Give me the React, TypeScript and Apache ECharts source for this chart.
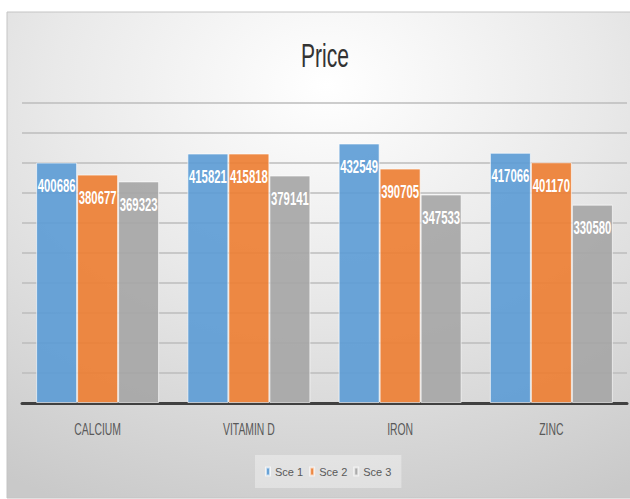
import React, { useEffect, useRef } from "react";
import * as echarts from "echarts";

const categories = ["CALCIUM", "VITAMIN D", "IRON", "ZINC"];
const seriesNames = ["Sce 1", "Sce 2", "Sce 3"];
const sce1 = [400686, 415821, 432549, 417066];
const sce2 = [380677, 415818, 390705, 401170];
const sce3 = [369323, 379141, 347533, 330580];
const colors = ["#5B9BD5", "#ED7D31", "#A5A5A5"];

const FONT = "'Liberation Sans', Arial, sans-serif";
const BAR_W = 41;

export default function App() {
  const ref = useRef<HTMLDivElement>(null);
  useEffect(() => {
    if (!ref.current) return;
    const chart = echarts.init(ref.current, null, { renderer: "svg" });
    const data = [sce1, sce2, sce3];
    const labelData: number[][] = [];
    data.forEach((arr, s) => arr.forEach((v, c) => labelData.push([c, v, s])));
    const catData = categories.map((_, i) => [i, 0]);

    chart.setOption({
      animation: false,
      backgroundColor: "#ffffff",
      graphic: [
        {
          type: "rect",
          z: -100,
          silent: true,
          shape: { x: 7, y: 12, width: 640, height: 486 },
          style: {
            fill: new echarts.graphic.RadialGradient(0.5, 0.15, 0.95, [
              { offset: 0, color: "#ffffff" },
              { offset: 0.45, color: "#e9e9e9" },
              { offset: 1, color: "#c9c9c9" },
            ]),
            stroke: "#c4c4c4",
            lineWidth: 1,
          },
        },
        {
          type: "text",
          x: 325,
          y: 55,
          scaleX: 0.62,
          z: 10,
          style: {
            text: "Price",
            fill: "#333333",
            font: "normal 34px " + FONT,
            align: "center",
            verticalAlign: "middle",
          },
        },
      ],
      legend: {
        data: seriesNames,
        bottom: 11,
        left: 255,
        icon: "rect",
        itemWidth: 4,
        itemHeight: 8,
        itemGap: 6,
        padding: [11, 10],
        backgroundColor: "rgba(255,255,255,0.35)",
        textStyle: { fontFamily: FONT, fontSize: 11, color: "#595959" },
      },
      grid: { left: 22, right: 3, top: 103, bottom: 96, containLabel: false },
      xAxis: {
        type: "category",
        data: categories,
        axisTick: { show: false },
        axisLine: { lineStyle: { color: "#404040", width: 3 } },
        axisLabel: { show: false },
      },
      yAxis: {
        type: "value",
        min: 0,
        max: 500000,
        interval: 50000,
        axisLabel: { show: false },
        axisLine: { show: false },
        axisTick: { show: false },
        splitLine: { lineStyle: { color: "#bdbdbd", width: 1.5 } },
      },
      series: [
        ...seriesNames.map((name, i) => ({
          name,
          type: "bar",
          data: data[i],
          barWidth: BAR_W,
          barGap: "0%",
          itemStyle: {
            color: colors[i],
            opacity: 0.9,
            borderColor: "rgba(255,255,255,0.7)",
            borderWidth: 1,
          },
        })),
        {
          type: "custom",
          name: "labels",
          data: labelData,
          z: 10,
          clip: false,
          silent: true,
          renderItem: (params: any, api: any) => {
            const p = api.coord([api.value(0), api.value(1)]);
            const s = api.value(2);
            return {
              type: "text",
              x: p[0] + (s - 1) * BAR_W,
              y: p[1] + 23,
              scaleX: 0.63,
              style: {
                text: String(api.value(1)),
                fill: "#ffffff",
                font: "bold 18px " + FONT,
                align: "center",
                verticalAlign: "middle",
              },
            };
          },
        },
        {
          type: "custom",
          name: "catLabels",
          data: catData,
          z: 10,
          clip: false,
          silent: true,
          renderItem: (params: any, api: any) => {
            const p = api.coord([api.value(0), 0]);
            return {
              type: "text",
              x: p[0],
              y: p[1] + 27,
              scaleX: 0.65,
              style: {
                text: categories[params.dataIndex],
                fill: "#595959",
                font: "normal 16px " + FONT,
                align: "center",
                verticalAlign: "middle",
              },
            };
          },
        },
      ],
    });
    return () => chart.dispose();
  }, []);
  return (
    <div
      ref={ref}
      style={{ position: "fixed", left: 0, top: 0, width: 630, height: 499 }}
    />
  );
}
